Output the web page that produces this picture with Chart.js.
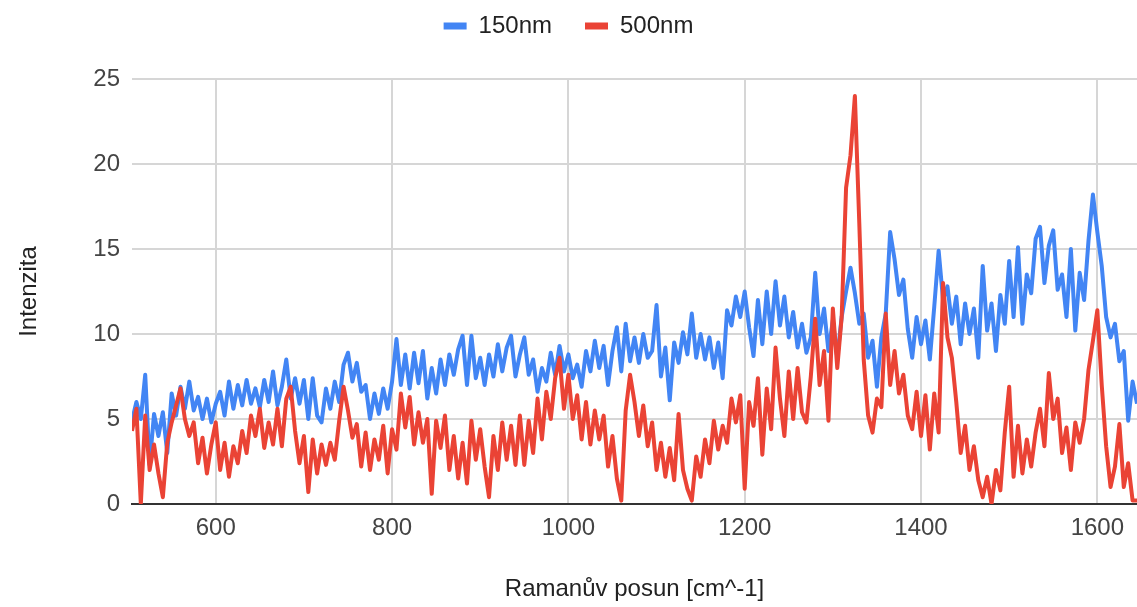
<!DOCTYPE html>
<html>
<head>
<meta charset="utf-8">
<script src="https://cdn.jsdelivr.net/npm/chart.js@4.4.1/dist/chart.umd.min.js"></script>
<style>
  html, body { margin: 0; padding: 0; background: #fff; }
</style>
</head>
<body>
<canvas id="myChart" width="1137" height="607"></canvas>
<script>
// Raman shift [cm^-1]
const shifts = [
    505, 510, 515, 520, 525, 530, 535, 540, 545, 550,
    555, 560, 565, 570, 575, 580, 585, 590, 595, 600,
    605, 610, 615, 620, 625, 630, 635, 640, 645, 650,
    655, 660, 665, 670, 675, 680, 685, 690, 695, 700,
    705, 710, 715, 720, 725, 730, 735, 740, 745, 750,
    755, 760, 765, 770, 775, 780, 785, 790, 795, 800,
    805, 810, 815, 820, 825, 830, 835, 840, 845, 850,
    855, 860, 865, 870, 875, 880, 885, 890, 895, 900,
    905, 910, 915, 920, 925, 930, 935, 940, 945, 950,
    955, 960, 965, 970, 975, 980, 985, 990, 995, 1000,
    1005, 1010, 1015, 1020, 1025, 1030, 1035, 1040, 1045, 1050,
    1055, 1060, 1065, 1070, 1075, 1080, 1085, 1090, 1095, 1100,
    1105, 1110, 1115, 1120, 1125, 1130, 1135, 1140, 1145, 1150,
    1155, 1160, 1165, 1170, 1175, 1180, 1185, 1190, 1195, 1200,
    1205, 1210, 1215, 1220, 1225, 1230, 1235, 1240, 1245, 1250,
    1255, 1260, 1265, 1270, 1275, 1280, 1285, 1290, 1295, 1300,
    1305, 1310, 1315, 1320, 1325, 1330, 1335, 1340, 1345, 1350,
    1355, 1360, 1365, 1370, 1375, 1380, 1385, 1390, 1395, 1400,
    1405, 1410, 1415, 1420, 1425, 1430, 1435, 1440, 1445, 1450,
    1455, 1460, 1465, 1470, 1475, 1480, 1485, 1490, 1495, 1500,
    1505, 1510, 1515, 1520, 1525, 1530, 1535, 1540, 1545, 1550,
    1555, 1560, 1565, 1570, 1575, 1580, 1585, 1590, 1595, 1600,
    1605, 1610, 1615, 1620, 1625, 1630, 1635, 1640, 1645
]

const int150 = [
    4.9, 6.0, 5.0, 7.6, 2.3, 5.3, 4.0, 5.4, 3.0, 6.5,
    5.2, 6.9, 5.6, 7.2, 5.5, 6.3, 5.0, 6.2, 4.8, 5.9,
    6.6, 5.2, 7.2, 5.6, 7.0, 5.8, 7.3, 5.9, 6.8, 5.7,
    7.3, 6.0, 7.8, 5.8, 6.9, 8.5, 6.2, 7.4, 5.9, 7.3,
    5.0, 7.4, 5.2, 4.8, 6.8, 5.6, 7.2, 6.0, 8.2, 8.9,
    7.2, 8.3, 6.6, 7.0, 5.0, 6.5, 5.3, 6.8, 5.6, 7.2,
    9.7, 7.0, 8.8, 6.8, 8.9, 7.1, 9.0, 6.2, 8.0, 6.5,
    8.5, 7.0, 8.8, 7.6, 9.1, 9.9, 7.0, 9.9, 7.4, 8.6,
    7.0, 8.8, 7.5, 9.4, 7.8, 9.2, 9.9, 7.5, 8.8, 9.8,
    7.6, 8.5, 6.6, 8.0, 7.2, 8.9, 7.6, 9.3, 7.8, 8.8,
    7.4, 8.2, 6.9, 9.0, 7.8, 9.6, 8.0, 9.3, 7.0, 9.0,
    10.4, 7.8, 10.6, 8.4, 9.8, 8.3, 10.0, 8.6, 9.0, 11.7,
    7.5, 9.2, 6.1, 9.5, 8.3, 10.1, 8.8, 11.2, 8.6, 10.0,
    8.5, 9.8, 8.0, 9.5, 7.4, 11.4, 10.5, 12.2, 11.0, 12.5,
    10.4, 8.7, 12.0, 9.4, 12.5, 10.0, 13.1, 10.5, 12.2, 9.8,
    11.3, 9.2, 10.6, 8.9, 9.8, 13.6, 10.0, 11.5, 9.0, 10.8,
    8.6, 11.0, 12.5, 13.9, 12.4, 10.6, 11.2, 8.6, 9.6, 6.9,
    9.8, 11.2, 16.0, 14.4, 12.3, 13.2, 10.3, 8.6, 11.0, 9.4,
    10.8, 8.5, 11.6, 14.9, 12.0, 12.8, 10.6, 12.2, 9.4, 11.8,
    10.0, 11.5, 8.6, 14.0, 10.2, 11.8, 9.0, 12.3, 10.6, 14.3,
    11.0, 15.1, 10.6, 13.5, 12.4, 15.6, 16.3, 13.0, 15.2, 16.1,
    12.6, 13.5, 11.0, 15.0, 10.2, 13.6, 12.0, 15.5, 18.2, 16.0,
    14.0, 11.0, 9.8, 10.6, 8.4, 9.0, 4.9, 7.2, 5.9
]

const int500 = [
    4.3, 5.6, 0.0, 5.2, 2.0, 3.5, 1.8, 0.4, 3.6, 4.8,
    5.8, 6.8, 5.0, 4.0, 4.8, 2.4, 3.9, 1.8, 3.5, 4.8,
    2.0, 3.6, 1.6, 3.4, 2.4, 4.3, 3.0, 5.2, 4.0, 5.6,
    3.3, 4.8, 3.5, 5.6, 3.4, 6.2, 6.9, 4.3, 2.4, 4.0,
    0.7, 3.8, 1.8, 3.5, 2.3, 3.6, 2.6, 4.9, 6.9, 5.5,
    3.9, 4.7, 2.2, 4.2, 2.0, 3.8, 2.6, 4.6, 1.8, 4.4,
    3.2, 6.5, 4.5, 6.3, 3.5, 5.4, 3.6, 5.0, 0.6, 4.9,
    3.3, 5.2, 2.0, 4.0, 1.5, 3.6, 1.2, 4.9, 2.6, 4.4,
    2.2, 0.4, 4.0, 2.0, 4.8, 2.6, 4.6, 2.3, 5.2, 2.3,
    4.9, 3.0, 6.2, 3.8, 6.6, 5.0, 7.4, 8.6, 5.6, 7.6,
    5.0, 6.4, 3.8, 6.0, 3.5, 5.5, 3.8, 5.2, 2.2, 4.0,
    1.5, 0.2, 5.5, 7.6, 6.0, 4.0, 5.8, 3.4, 4.8, 2.0,
    3.6, 1.6, 3.3, 1.4, 5.3, 2.0, 0.9, 0.2, 2.8, 1.6,
    3.8, 2.4, 4.9, 3.2, 4.6, 3.6, 6.2, 4.8, 6.4, 0.9,
    6.0, 4.6, 7.4, 2.9, 6.8, 4.4, 9.2, 6.2, 4.0, 7.8,
    5.0, 8.0, 5.4, 4.8, 7.5, 10.9, 7.0, 9.0, 4.9, 11.5,
    8.0, 11.0, 18.6, 20.5, 24.0, 16.5, 8.5, 5.2, 4.2, 6.2,
    5.7, 11.2, 7.0, 9.0, 6.5, 7.6, 5.2, 4.4, 6.6, 4.0,
    6.4, 3.2, 6.5, 4.2, 13.0, 9.8, 8.6, 6.0, 3.0, 4.6,
    2.0, 3.4, 1.4, 0.4, 1.6, 0.0, 2.0, 0.8, 4.2, 6.9,
    1.6, 4.6, 1.8, 3.8, 2.2, 4.2, 5.6, 3.4, 7.7, 5.0,
    6.2, 3.0, 4.5, 2.0, 4.8, 3.6, 5.0, 7.9, 9.6, 11.4,
    7.0, 3.4, 1.0, 2.2, 4.7, 1.0, 2.4, 0.2, 0.2
]

const xTicks = [600, 800, 1000, 1200, 1400, 1600]
const yTicks = [0, 5, 10, 15, 20, 25]

Chart.defaults.font.family = "'Liberation Sans', Arial, sans-serif"

const toPoints = (vals) => vals.map((v, i) => ({ x: shifts[i], y: v }))

// make the legend box reach down to the top of the plot
const legendSpace = {
    id: 'legendSpace',
    beforeInit(chart) {
        const fit = chart.legend.fit
        chart.legend.fit = function () {
            fit.bind(chart.legend)()
            this.height = 98
        }
    }
}

const ctx = document.getElementById('myChart').getContext('2d')

const gridStyle = { color: '#d6d6d6', lineWidth: 2, drawTicks: false }

new Chart(ctx, {
    type: 'line',
    data: {
        datasets: [{
            label: '150nm',
            data: toPoints(int150),
            borderColor: '#4285F4',
            backgroundColor: '#4285F4',
            borderWidth: 4,
            order: 1
        }, {
            label: '500nm',
            data: toPoints(int500),
            borderColor: '#EA4335',
            backgroundColor: '#EA4335',
            borderWidth: 4,
            order: 0
        }]
    },
    options: {
        responsive: false,
        animation: false,
        layout: { padding: { top: -19, left: 0, right: 0, bottom: 0 } },
        elements: {
            point: { radius: 0 },
            line: { tension: 0, borderJoinStyle: 'round' }
        },
        plugins: {
            legend: {
                position: 'top',
                labels: {
                    font: { size: 24 },
                    color: '#222',
                    boxWidth: 23,
                    boxHeight: 7,
                    padding: 33,
                    sort: (a, b) => a.datasetIndex - b.datasetIndex,
                    generateLabels: (chart) => Chart.defaults.plugins.legend.labels
                        .generateLabels(chart).map(l => ({ ...l, lineWidth: 0 }))
                }
            },
            tooltip: { enabled: false }
        },
        scales: {
            x: {
                type: 'linear',
                min: 505,
                max: 1645,
                afterBuildTicks: (axis) => { axis.ticks = xTicks.map(v => ({ value: v })) },
                afterFit: (axis) => { axis.height = 103 },
                grid: gridStyle,
                border: { display: true, color: '#333', width: 2 },
                ticks: {
                    font: { size: 24 },
                    color: '#444',
                    padding: 10,
                    maxRotation: 0,
                    callback: (v) => String(v)
                },
                title: {
                    display: true,
                    text: 'Ramanův posun [cm^-1]',
                    font: { size: 24 },
                    color: '#222',
                    padding: { top: 0, bottom: 3 }
                }
            },
            y: {
                min: 0,
                max: 25,
                afterBuildTicks: (axis) => { axis.ticks = yTicks.map(v => ({ value: v })) },
                afterFit: (axis) => { axis.width = 132 },
                grid: gridStyle,
                border: { display: false },
                ticks: {
                    font: { size: 24 },
                    color: '#444',
                    padding: 12,
                    callback: (v) => String(v)
                },
                title: {
                    display: true,
                    text: 'Intenzita',
                    font: { size: 24 },
                    color: '#222',
                    padding: { top: 15, bottom: 0 }
                }
            }
        }
    },
    plugins: [legendSpace]
})
</script>
</body>
</html>
